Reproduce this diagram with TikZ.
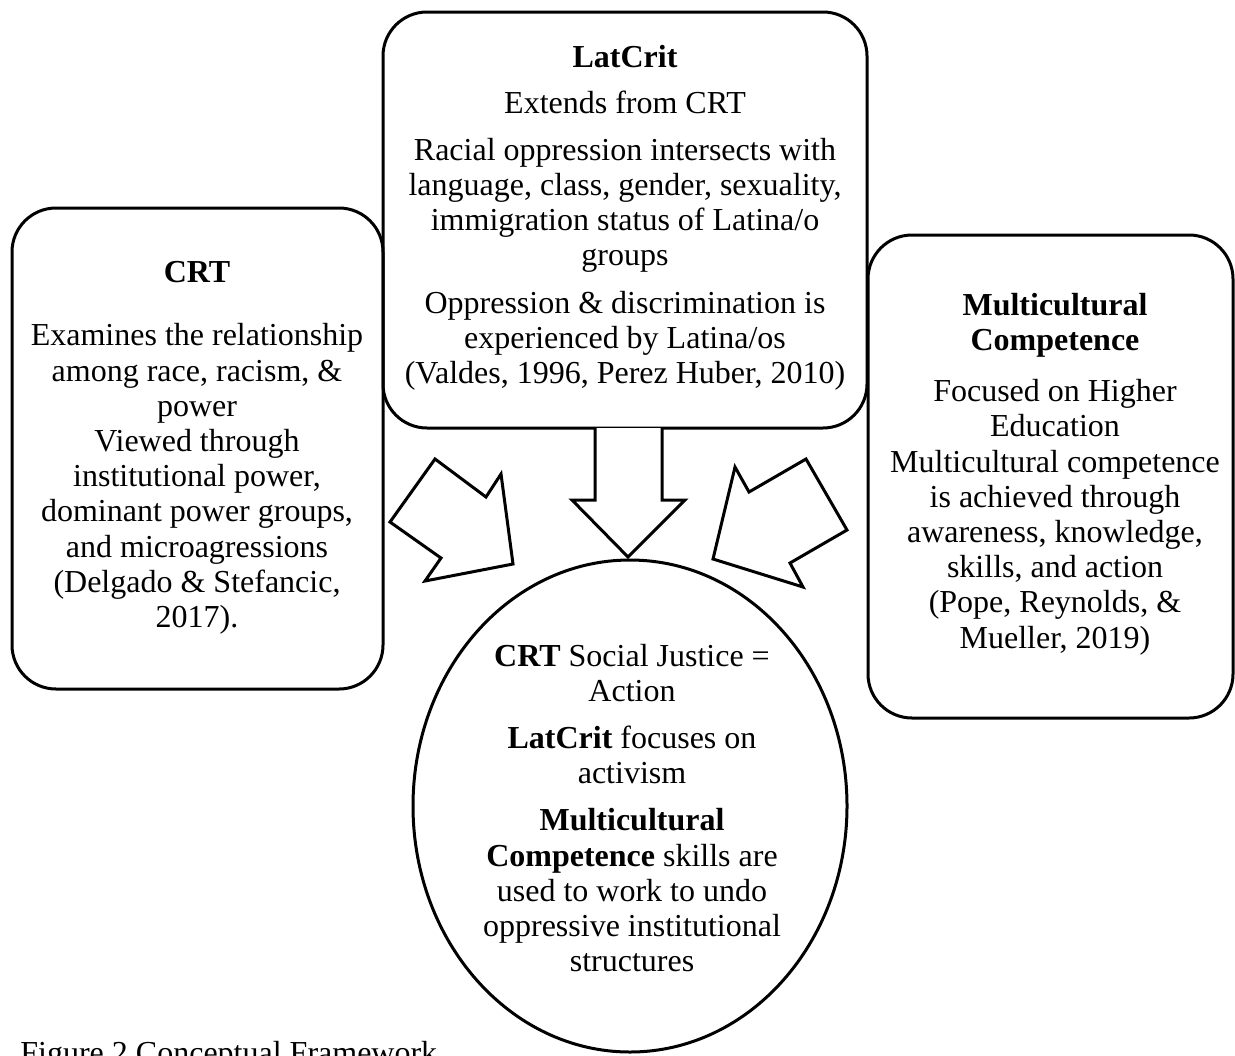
\documentclass[tikz,border=0pt]{standalone}
\usepackage{fontspec}
\setmainfont{Liberation Serif}
\usetikzlibrary{shapes.geometric}
\begin{document}
\begin{tikzpicture}[x=0.5pt,y=-0.5pt,
  box/.style={draw=black,line width=1.5pt,rounded corners=22pt},
  txt/.style={align=center,font=\fontsize{16pt}{17.6pt}\selectfont,inner sep=0pt},
  bigarrow/.style={draw=black,line width=1.5pt,line join=miter,fill=white}]
\useasboundingbox (0,0) rectangle (1235,1055);
% boxes
\draw[box] (12,208) rectangle (383,689);
\draw[box] (383,12) rectangle (867,428);
\draw[box] (868,235) rectangle (1233,718);
\node[draw=black,line width=1.5pt,ellipse,minimum width=217pt,minimum height=246pt,inner sep=0pt] (circ) at (630,806) {};
% named anchors
\coordinate (crt) at (197,448);
\coordinate (lat) at (625,218);
\coordinate (mc) at (1055,474);
% arrows
\draw[bigarrow] (595,428) -- (595,500) -- (572,500) -- (628,557) -- (685,500) -- (662,500) -- (662,428);
\draw[bigarrow] (435,459) -- (486,497) -- (501,474) -- (513,564) -- (425,581) -- (441,558) -- (390,522) -- cycle;
\draw[bigarrow] (735,467) -- (749,492) -- (806,459) -- (847,530) -- (790,563) -- (803,587) -- (713,559) -- cycle;
% texts
\node[txt] (crttext) at (crt) {\textbf{CRT}\\[14pt]
Examines the relationship\\ among race, racism, \&\\ power\\ Viewed through\\ institutional power,\\ dominant power groups,\\ and microagressions\\ (Delgado \& Stefancic,\\ 2017).};
\node[txt] (lattext) at (lat) {\textbf{LatCrit}\\[5pt]
Extends from CRT\\[6pt]
Racial oppression intersects with\\ language, class, gender, sexuality,\\ immigration status of Latina/o\\ groups\\[6pt]
Oppression \& discrimination is\\ experienced by Latina/os\\ (Valdes, 1996, Perez Huber, 2010)};
\node[txt] (mctext) at (mc) {\textbf{Multicultural}\\ \textbf{Competence}\\[8pt]
Focused on Higher\\ Education\\ Multicultural competence\\ is achieved through\\ awareness, knowledge,\\ skills, and action\\ (Pope, Reynolds, \&\\ Mueller, 2019)};
\node[txt] (circtext) at (632,808) {\textbf{CRT} Social Justice =\\ Action\\[6pt]
\textbf{LatCrit} focuses on\\ activism\\[6pt]
\textbf{Multicultural}\\ \textbf{Competence} skills are\\ used to work to undo\\ oppressive institutional\\ structures};
\node[txt,anchor=base west] (caption) at (20,1063) {Figure 2 Conceptual Framework};
\end{tikzpicture}
\end{document}
